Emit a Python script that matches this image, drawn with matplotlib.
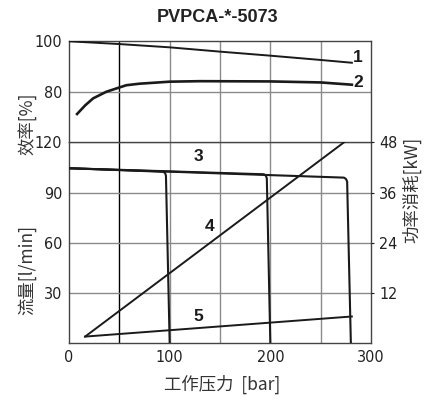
import matplotlib
matplotlib.use("Agg")
import matplotlib.pyplot as plt
import numpy as np

plt.rcParams['font.family'] = ['Noto Sans CJK SC', 'DejaVu Sans']

# efficiency curves (top panel)
p_eff1 = [0, 50, 100, 150, 200, 250, 281]
eff1 = [100, 98.9, 97.6, 95.9, 94.3, 92.6, 91.5]
p_eff2 = [8, 16, 24, 37, 50, 57, 70, 100, 130, 200, 250, 281]
eff2 = [71.2, 74.6, 77.4, 80.0, 81.7, 82.6, 83.2, 84.0, 84.2, 84.1, 83.7, 82.8]

# flow curves (3), one per pressure setting
p_q100 = [0, 93.5, 95.5, 96.3, 100]
q100 = [104.5, 102.4, 101.6, 100.0, 0]
p_q200 = [0, 193.5, 195.5, 196.5, 200]
q200 = [104.5, 100.9, 100.1, 98.5, 0]
p_q280 = [0, 273, 275, 276.3, 280]
q280 = [104.5, 98.9, 98.2, 96.6, 0]

# power curves (4, 5)
p_pow = [16, 281]
pow4 = [1.6, 49.4]
pow5 = [1.6, 6.4]

line_c = '#1a1a1a'
grid_c = '#8a8a8a'

fig = plt.figure(figsize=(4.33, 4.0), dpi=100)
ax_top = fig.add_axes([0.1594, 0.6443, 0.6974, 0.2525])
ax_bot = fig.add_axes([0.1594, 0.1418, 0.6974, 0.5025])
ax_pow = ax_bot.twinx()

for ax in (ax_top, ax_bot):
    ax.set_xlim(0, 300)
    ax.set_xticks([0, 100, 200, 300])
    for xv in [50, 100, 150, 200, 250]:
        ax.axvline(xv, color='black' if xv == 50 else grid_c, lw=1.0, zorder=1)
    for s in ax.spines.values():
        s.set_color('#444444')
        s.set_linewidth(1.0)

ax_top.set_ylim(60, 100)
ax_top.set_yticks([80, 100])
ax_top.axhline(80, color=grid_c, lw=1.0, zorder=1)
ax_top.tick_params(axis='x', which='both', length=0, labelbottom=False)
ax_top.spines['bottom'].set_visible(False)

ax_bot.set_ylim(0, 120)
ax_bot.set_yticks([30, 60, 90, 120])
for yv in [30, 60, 90, 120]:
    ax_bot.axhline(yv, color=grid_c, lw=1.0, zorder=1)
ax_pow.set_ylim(0, 48)
ax_pow.set_yticks([12, 24, 36, 48])
for s in ax_pow.spines.values():
    s.set_visible(False)

for ax in (ax_top, ax_bot, ax_pow):
    ax.tick_params(length=0, pad=5, colors='#222222', labelsize=11.5)
    for lab in ax.get_xticklabels() + ax.get_yticklabels():
        lab.set_fontfamily('DejaVu Sans')
        lab.set_fontstretch('condensed')
ax_pow.tick_params(axis='y', length=2, pad=4)

# curves
ax_top.plot(p_eff1, eff1, color=line_c, lw=1.4, zorder=3)
ax_top.plot(p_eff2, eff2, color=line_c, lw=1.9, zorder=3)
ax_bot.plot(p_q100, q100, color=line_c, lw=1.5, zorder=3)
ax_bot.plot(p_q200, q200, color=line_c, lw=1.5, zorder=3)
ax_bot.plot(p_q280, q280, color=line_c, lw=1.5, zorder=3)
ax_pow.plot(p_pow, pow4, color=line_c, lw=1.4, zorder=3)
ax_pow.plot(p_pow, pow5, color=line_c, lw=1.4, zorder=3)

num_font = dict(family='Liberation Sans', weight='bold', size=12.5,
                ha='center', va='center', color='#1a1a1a')
ax_top.text(287, 93.4, '1', **num_font)
ax_top.text(287, 83.5, '2', **num_font)
ax_bot.text(128.8, 111.4, '3', **num_font)
ax_bot.text(139.4, 69.5, '4', **num_font)
ax_bot.text(128.8, 15.9, '5', **num_font)

fig.text(0.502, 0.957, 'PVPCA-*-5073', family='Liberation Sans', weight='bold',
         size=13, ha='center', va='center', color='#222222')
fig.text(0.062, 1 - 124 / 400, '效率[%]', rotation=90, ha='center', va='center',
         size=12.5, color='#333333')
fig.text(0.062, 1 - 270 / 400, '流量[l/min]', rotation=90, ha='center', va='center',
         size=12.5, color='#333333')
fig.text(0.951, 1 - 190 / 400, '功率消耗[kW]', rotation=90, ha='center', va='center',
         size=12.5, color='#333333')
fig.text(0.512, 1 - 384 / 400, '工作压力  [bar]', ha='center', va='center',
         size=12.5, color='#333333')

fig.savefig('out.png', dpi=100)
